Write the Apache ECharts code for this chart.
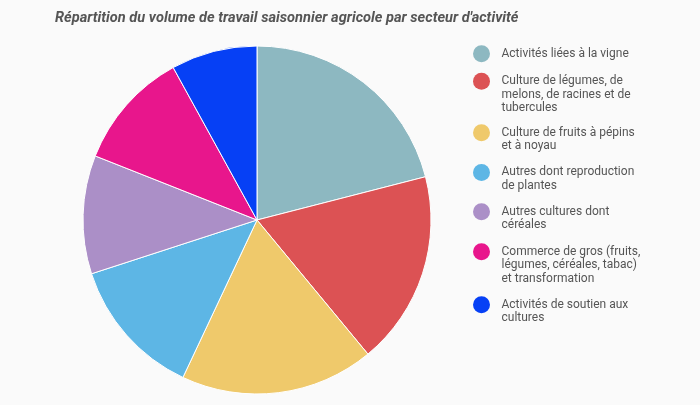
<!DOCTYPE html>
<html>
<head>
<meta charset="utf-8">
<script src="https://cdn.jsdelivr.net/npm/echarts@6/dist/echarts.min.js"></script>
<style>
html,body{margin:0;padding:0;background:#fafafa;}
#chart{width:700px;height:405px;}
</style>
</head>
<body>
<div id="chart"></div>
<script>
// Data
const categories = [
  'Activités liées à la vigne',
  'Culture de légumes, de melons, de racines et de tubercules',
  'Culture de fruits à pépins et à noyau',
  'Autres dont reproduction de plantes',
  'Autres cultures dont céréales',
  'Commerce de gros (fruits, légumes, céréales, tabac) et transformation',
  'Activités de soutien aux cultures'
];
const legendLabels = [
  ['Activités liées à la vigne'],
  ['Culture de légumes, de', 'melons, de racines et de', 'tubercules'],
  ['Culture de fruits à pépins', 'et à noyau'],
  ['Autres dont reproduction', 'de plantes'],
  ['Autres cultures dont', 'céréales'],
  ['Commerce de gros (fruits,', 'légumes, céréales, tabac)', 'et transformation'],
  ['Activités de soutien aux', 'cultures']
];
const values = [21, 18, 18, 13, 11, 11, 8];
const colors = ['#8db8c1', '#dc5254', '#efc96b', '#5db6e5', '#ab8fc7', '#e8168c', '#0640f5'];

// Layout (legend icon centre y positions)
const legendIconY = [53, 80.5, 132, 171.7, 211, 251, 304];
const LEGEND_OFFSET = 33;

function blockText(lines) {
  const pre = ['', ''];
  const post = [];
  for (let i = lines.length; i < 3; i++) post.push('');
  return pre.concat(lines, post).join('\n');
}

const legends = categories.map((name, i) => ({
  data: [{ name: name, icon: 'circle' }],
  orient: 'vertical',
  left: 473,
  top: legendIconY[i] - LEGEND_OFFSET,
  padding: 0,
  itemWidth: 30,
  itemHeight: 17,
  itemStyle: { borderWidth: 0 },
  selectedMode: false,
  formatter: () => blockText(legendLabels[i]),
  textStyle: {
    fontFamily: 'Roboto',
    fontSize: 12,
    color: '#555',
    lineHeight: 13.5
  }
}));

const chart = echarts.init(document.getElementById('chart'), null, { renderer: 'canvas' });
chart.setOption({
  backgroundColor: '#fafafa',
  animation: false,
  color: colors,
  title: {
    text: 'Répartition du volume de travail saisonnier agricole par secteur d\'activité',
    left: 55,
    top: 11,
    padding: 0,
    textStyle: {
      fontFamily: 'Roboto',
      fontSize: 14.6,
      fontWeight: 'bold',
      fontStyle: 'italic',
      color: '#555'
    }
  },
  legend: legends,
  series: [{
    type: 'pie',
    center: [257, 220],
    radius: 174,
    startAngle: 90,
    clockwise: true,
    label: { show: false },
    labelLine: { show: false },
    emphasis: { disabled: true },
    itemStyle: { borderColor: '#ffffff', borderWidth: 1 },
    data: categories.map((c, i) => ({ name: c, value: values[i] }))
  }]
});
</script>
</body>
</html>
